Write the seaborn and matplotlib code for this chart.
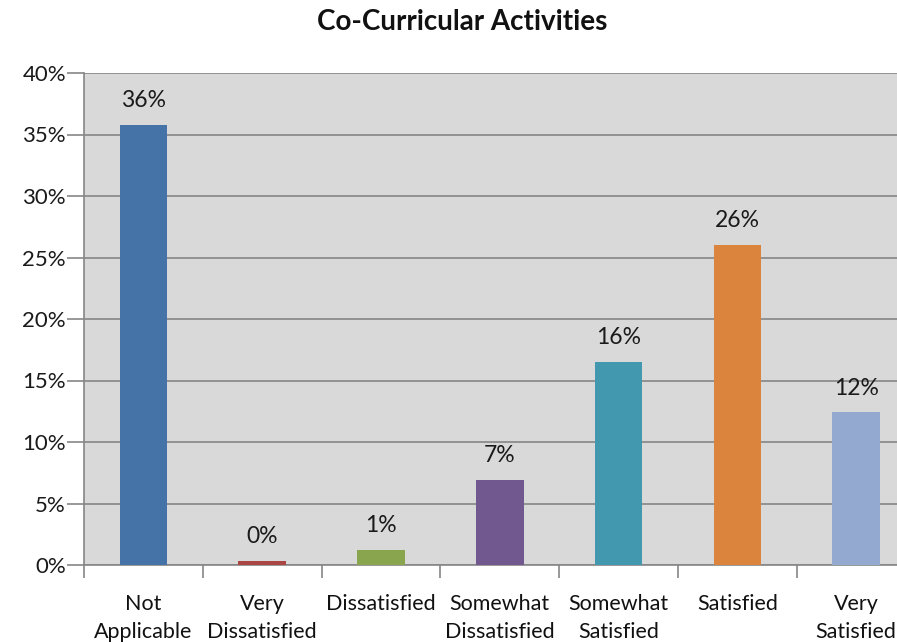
import matplotlib
matplotlib.use("Agg")
import matplotlib.pyplot as plt
import seaborn as sns
import pandas as pd
import numpy as np
from matplotlib.ticker import FuncFormatter, FixedLocator

categories = ["Not\nApplicable", "Very\nDissatisfied", "Dissatisfied", "Somewhat\nDissatisfied",
              "Somewhat\nSatisfied", "Satisfied", "Very\nSatisfied"]
values = [35.8, 0.3, 1.2, 6.9, 16.5, 26.0, 12.4]
value_labels = ["36%", "0%", "1%", "7%", "16%", "26%", "12%"]
colors = ["#4572A7", "#AA4643", "#89A54E", "#71588F", "#4198AF", "#DB843D", "#93A9CF"]
yticks = [0, 5, 10, 15, 20, 25, 30, 35, 40]

sns.set_theme(style="white")
plt.rcParams['font.family'] = ['Lato', 'DejaVu Sans']

df = pd.DataFrame({"cat": categories, "val": values})

fig = plt.figure(figsize=(8.97, 6.42), dpi=100)
ax = fig.add_axes([84/897, 77/642, 831.6/897, 492/642])
ax.set_facecolor("#D9D9D9")

sns.barplot(data=df, x="cat", y="val", hue="cat", palette=colors, width=0.4,
            legend=False, ax=ax, saturation=1, zorder=3, edgecolor="none", linewidth=0)

ax.set_ylim(0, 40)
ax.set_xlim(-0.5, 6.5)
ax.yaxis.set_major_locator(FixedLocator(yticks))
ax.yaxis.set_major_formatter(FuncFormatter(lambda v, p: f"{int(v)}%"))
ax.grid(axis="y", color="#868686", linewidth=1.2, zorder=1)
ax.set_axisbelow(True)

for s in ["top", "right"]:
    ax.spines[s].set_visible(False)
ax.spines["left"].set_color("#868686")
ax.spines["bottom"].set_color("#868686")
ax.spines["left"].set_linewidth(1.2)
ax.spines["bottom"].set_linewidth(1.2)

ax.tick_params(axis="y", which="major", length=12, color="#868686", width=1.2,
               labelsize=16, labelcolor="#1a1a1a", pad=1, left=True)
ax.set_xticks(range(len(categories)))
ax.set_xticklabels(categories, fontsize=15.5, color="#111111", linespacing=1.5)
ax.tick_params(axis="x", which="major", length=0, pad=21)
ax.set_xticks(np.arange(-0.5, 7, 1), minor=True)
ax.tick_params(axis="x", which="minor", length=9, color="#868686", width=1.2, bottom=True)

for i, (v, lab) in enumerate(zip(values, value_labels)):
    ax.annotate(lab, (i, v), xytext=(0, 10), textcoords="offset points",
                ha="center", va="bottom", fontsize=16.5, color="#1a1a1a")

ax.set_xlabel("")
ax.set_ylabel("")
fig.text(462/897, 1 - 22/642, "Co-Curricular Activities", ha="center", va="center",
         fontsize=20, fontweight="bold", color="#111111")

fig.savefig("out.png", dpi=100, facecolor="white")
